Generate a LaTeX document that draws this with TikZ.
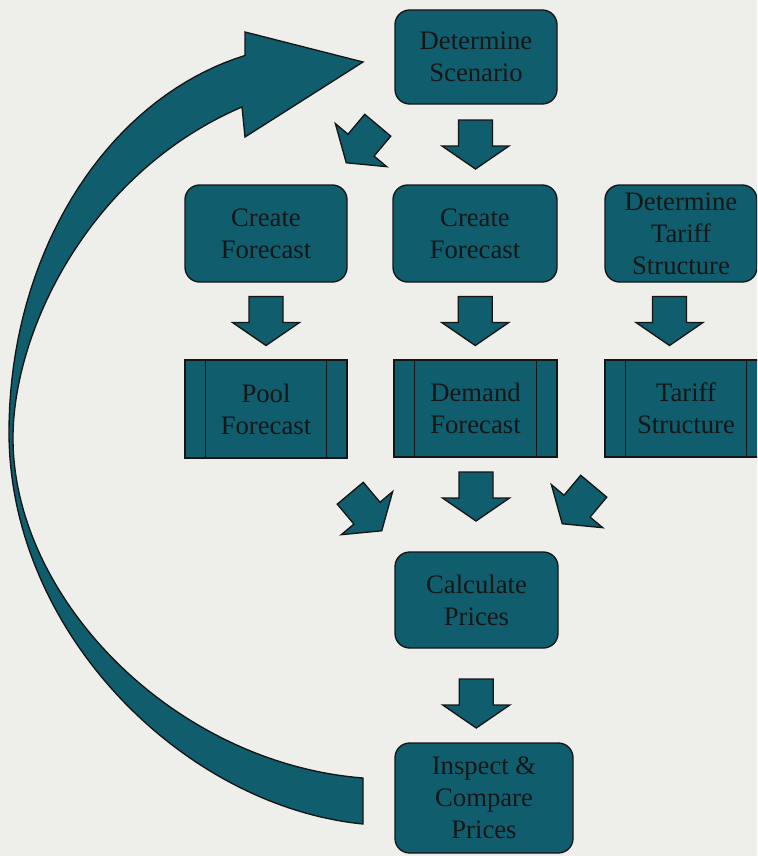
\documentclass[tikz,border=0pt]{standalone}
\usepackage{fontspec}
\setmainfont{Liberation Serif}
\usetikzlibrary{calc}

\definecolor{paper}{HTML}{EEEEEA}
\definecolor{tealfill}{HTML}{0F5D6D}
\definecolor{inkline}{HTML}{151515}
\definecolor{inktext}{HTML}{161616}

\tikzset{
  flowbox/.style={draw=inkline, fill=tealfill, line width=1pt, rounded corners=11pt,
    align=center, text=inktext, inner sep=0pt, font=\fontsize{20}{24}\selectfont},
  databox/.style={flowbox, sharp corners},
  blockfill/.style={draw=inkline, fill=tealfill, line width=1pt, line join=miter},
  % thick block arrow pointing down, origin at its centre
  blockarrow/.pic={
    \path[blockfill] (-17,-24.5) -- (17,-24.5) -- (17,1.5) -- (33.5,1.5)
      -- (0,24.5) -- (-33.5,1.5) -- (-17,1.5) -- cycle;
  }
}

\begin{document}
\begin{tikzpicture}[x=0.75pt,y=-0.75pt]
\useasboundingbox (0,0) rectangle (757,856);
\clip (0,0) rectangle (757,856);
\fill[paper] (0,0) rectangle (757,856);

% feedback loop: curved arrow from the last step back to the first
\path[blockfill]
  (245,32) -- (245,55.4)
  -- plot[domain=256.05:180, samples=40, variable=\t] ({320+311*cos(\t)},{432+388*sin(\t)})
  .. controls (9,632) and (183,806) .. (363,824)
  -- (363,778)
  .. controls (173,763) and (13,598) .. (13,438)
  .. controls (13,330) and (90,172) .. (242,107)
  -- (245,137) -- (363,62) -- cycle;

% process steps
\node[flowbox, minimum width=121.5pt, minimum height=70.5pt] (scen) at (476,57) {Determine\\Scenario};
\node[flowbox, minimum width=121.5pt, minimum height=72.75pt] (fcpool) at (266,233.5) {Create\\Forecast};
\node[flowbox, minimum width=123pt, minimum height=72.75pt] (fcdem) at (475,233.5) {Create\\Forecast};
\node[flowbox, minimum width=114pt, minimum height=72.75pt] (tarq) at (681,233.5) {Determine\\Tariff\\Structure};

% data produced by the steps
\node[databox, minimum width=121.5pt, minimum height=73.5pt] (pool) at (266,409) {Pool\\Forecast};
\node[databox, minimum width=122.25pt, minimum height=72.75pt] (dem) at (475.5,408.5) {Demand\\Forecast};
\node[databox, minimum width=121.5pt, minimum height=72.75pt] (tar) at (686,408.5) {Tariff\\Structure};
\foreach \n in {pool,dem,tar}
  \draw[inkline, line width=1pt]
    ([xshift=16pt]\n.north west) -- ([xshift=16pt]\n.south west)
    ([xshift=-16pt]\n.north east) -- ([xshift=-16pt]\n.south east);

\node[flowbox, minimum width=122.25pt, minimum height=72pt] (calc) at (476.5,600) {Calculate\\Prices};
\node[flowbox, minimum width=133.5pt, minimum height=82.5pt] (insp) at (484,798) {Inspect \&\\Compare\\Prices};

% block arrows between the steps
\pic at ($(scen.south)!0.5!(fcdem.north)$) {blockarrow};
\pic[rotate=-40] at (362,144) {blockarrow};
\pic at ($(fcpool.south)!0.5!(pool.north)$) {blockarrow};
\pic at ($(fcdem.south)!0.5!(dem.north)$) {blockarrow};
\pic at ($(tarq.south)!0.5!(tar.north)+(-14,0)$) {blockarrow};
\pic at ($(dem.south)!0.5!(calc.north)+(0,-8)$) {blockarrow};
\pic[rotate=40] at (366,512) {blockarrow};
\pic[rotate=-40] at (578,505) {blockarrow};
\pic at ($(calc.south)!0.5!(insp.north)+(-4,8)$) {blockarrow};
\end{tikzpicture}
\end{document}
